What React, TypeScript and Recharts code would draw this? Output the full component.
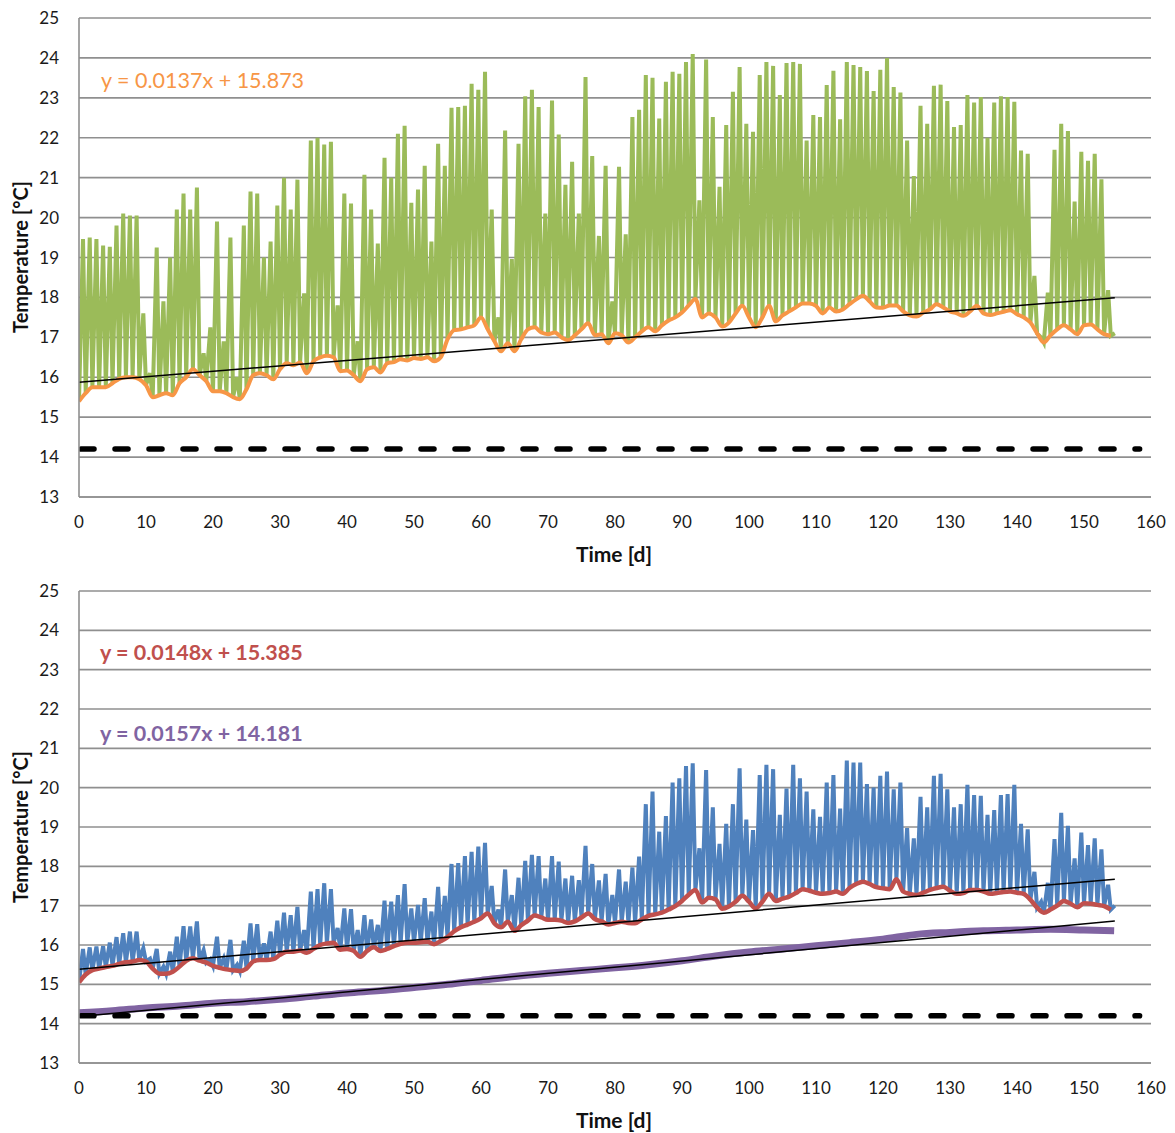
import React from 'react';
import { LineChart, Line, XAxis, YAxis, CartesianGrid } from 'recharts';

// ---- Top chart data (daily values, day index 0..154) ----
const greenPeak = [
  19.46, 19.5, 19.46, 19.3, 19.27, 19.8, 20.1, 20.05, 20.05, 17.6,
  16.1, 19.25, 17.9, 19.0, 20.2, 20.6, 20.2, 20.75, 16.6, 17.25,
  19.9, 16.9, 19.5, 16.0, 19.8, 20.65, 20.6, 19.0, 19.4, 20.3,
  21.0, 20.2, 20.95, 18.1, 21.93, 22.0, 21.83, 21.9, 17.8, 20.6,
  20.35, 16.9, 21.07, 20.2, 19.35, 21.5, 21.0, 22.1, 22.3, 20.37,
  20.7, 21.3, 19.4, 21.85, 21.3, 22.75, 22.77, 22.8, 23.35, 23.2,
  23.65, 20.2, 17.5, 22.18, 18.96, 21.85, 23.04, 23.2, 22.77, 20.1,
  22.93, 22.08, 20.82, 21.4, 20.1, 23.52, 21.54, 19.54, 21.3, 17.9,
  21.27, 19.58, 22.52, 22.7, 23.57, 23.5, 22.48, 23.4, 23.65, 23.6,
  23.9, 24.1, 20.43, 23.96, 22.52, 20.77, 22.32, 23.15, 23.77, 22.35,
  22.15, 23.57, 23.9, 23.8, 23.07, 23.87, 23.9, 23.85, 21.93, 22.57,
  22.52, 23.32, 23.68, 22.46, 23.9, 23.82, 23.77, 23.67, 23.17, 23.7,
  24.0, 23.27, 23.13, 21.93, 21.04, 22.8, 22.35, 23.3, 23.33, 22.92,
  22.27, 22.32, 23.07, 22.88, 23.02, 22.0, 22.88, 23.04, 23.02, 22.9,
  21.68, 21.6, 18.54, 17.0, 18.12, 21.7, 22.35, 22.17, 20.4, 21.65,
  21.42, 21.6, 20.96, 18.18, 17.1,
];

const orangeMin = [
  15.4, 15.6, 15.75, 15.75, 15.75, 15.85, 15.96, 16.0, 16.0, 15.95,
  15.8, 15.5, 15.55, 15.6, 15.55, 15.85, 16.0, 16.2, 16.05, 15.9,
  15.65, 15.65, 15.6, 15.5, 15.45, 15.7, 16.05, 16.1, 16.05, 15.95,
  16.2, 16.35, 16.3, 16.37, 16.1, 16.4, 16.5, 16.54, 16.5, 16.15,
  16.17, 16.05, 15.9, 16.2, 16.25, 16.12, 16.35, 16.38, 16.45, 16.42,
  16.48, 16.46, 16.5, 16.4, 16.5, 16.95, 17.18, 17.2, 17.25, 17.3,
  17.5, 17.2, 16.9, 16.65, 16.85, 16.65, 16.95, 17.2, 17.25, 17.12,
  17.08, 17.12, 17.0, 16.93, 17.05, 17.2, 17.35, 17.05, 17.08, 16.85,
  17.1, 17.05, 16.87, 17.0, 17.15, 17.25, 17.15, 17.3, 17.42, 17.5,
  17.62, 17.8, 17.96, 17.5, 17.6, 17.5, 17.27, 17.37, 17.6, 17.79,
  17.5, 17.25, 17.5, 17.79, 17.4, 17.55, 17.65, 17.75, 17.85, 17.85,
  17.79, 17.6, 17.75, 17.65, 17.7, 17.83, 17.95, 18.04, 17.9, 17.75,
  17.74, 17.8, 17.8, 17.65, 17.55, 17.52, 17.62, 17.7, 17.83, 17.75,
  17.65, 17.6, 17.54, 17.65, 17.79, 17.6, 17.56, 17.6, 17.64, 17.68,
  17.58, 17.5, 17.37, 17.1, 16.87, 17.05, 17.2, 17.3, 17.2, 17.08,
  17.3, 17.32, 17.2, 17.08, 17.04,
];

// ---- Bottom chart data ----
const bluePeak = [
  15.9, 15.94, 15.96, 15.97, 16.06, 16.2, 16.3, 16.34, 16.34, 15.92,
  15.65, 15.9, 15.45, 15.83, 16.21, 16.48, 16.47, 16.6, 15.87, 15.64,
  16.21, 15.66, 16.13, 15.5, 16.11, 16.55, 16.53, 16.04, 16.34, 16.62,
  16.82, 16.76, 16.97, 16.38, 17.36, 17.42, 17.57, 17.42, 16.43, 16.93,
  16.91, 16.38, 16.76, 16.65, 16.51, 17.13, 17.1, 17.27, 17.55, 16.93,
  17.02, 17.19, 16.85, 17.48, 17.25, 18.06, 18.08, 18.26, 18.37, 18.5,
  18.6, 17.5, 16.9, 17.92, 17.27, 17.71, 18.14, 18.29, 18.26, 17.69,
  18.26, 18.12, 17.69, 17.76, 17.65, 18.52, 18.06, 17.64, 17.81, 17.27,
  17.92, 17.61, 17.97, 18.25, 19.58, 19.9, 18.88, 19.28, 20.13, 20.24,
  20.55, 20.62, 18.46, 20.45, 19.5, 18.57, 19.08, 19.58, 20.49, 19.19,
  18.92, 20.32, 20.58, 20.47, 19.31, 19.98, 20.58, 20.24, 19.9, 19.45,
  19.26, 20.13, 20.32, 19.47, 20.69, 20.64, 20.64, 20.09, 20.0, 20.3,
  20.41, 19.96, 20.13, 18.97, 18.71, 19.77, 19.5, 20.3, 20.35, 19.96,
  19.5, 19.58, 20.07, 19.81, 19.79, 19.31, 19.43, 19.81, 19.84, 20.07,
  19.08, 18.94, 17.86, 17.1, 17.58, 18.69, 19.36, 19.03, 18.2, 18.86,
  18.54, 18.71, 18.43, 17.53, 17.0,
];

const redMin = [
  15.05, 15.25, 15.36, 15.4, 15.44, 15.47, 15.52, 15.56, 15.58, 15.62,
  15.58, 15.4, 15.27, 15.27, 15.32, 15.45, 15.6, 15.66, 15.6, 15.55,
  15.47, 15.42, 15.38, 15.36, 15.34, 15.4, 15.58, 15.62, 15.62, 15.64,
  15.75, 15.83, 15.83, 15.86, 15.8, 15.9, 16.0, 16.04, 16.06, 15.88,
  15.9, 15.85, 15.7, 15.85, 15.94, 15.85, 15.9, 15.97, 16.03, 16.06,
  16.06, 16.07, 16.08, 16.02, 16.1, 16.2, 16.35, 16.45, 16.52, 16.59,
  16.68, 16.8, 16.55, 16.45, 16.59, 16.36, 16.5, 16.62, 16.75, 16.7,
  16.64, 16.64, 16.62, 16.56, 16.6, 16.7, 16.8, 16.66, 16.6, 16.52,
  16.56, 16.59, 16.56, 16.55, 16.65, 16.74, 16.78, 16.82, 16.9, 16.99,
  17.12, 17.28, 17.4, 17.08, 17.2, 17.16, 16.92, 16.98, 17.1, 17.25,
  17.1, 16.93, 17.1, 17.3, 17.12, 17.18, 17.23, 17.32, 17.42, 17.38,
  17.33, 17.3, 17.32, 17.36, 17.3, 17.45, 17.55, 17.61, 17.55, 17.47,
  17.44, 17.42, 17.67, 17.36, 17.3, 17.27, 17.33, 17.4, 17.45, 17.48,
  17.38, 17.3, 17.32, 17.4, 17.4, 17.36, 17.3, 17.32, 17.35, 17.36,
  17.33, 17.3, 17.15, 16.95, 16.82, 16.9, 17.0, 17.12, 17.05, 16.96,
  17.06, 17.05, 17.02, 16.99, 16.9,
];

const purpleDays = [0, 5, 10, 15, 20, 25, 30, 35, 40, 45, 50, 55, 60, 65, 70, 75, 80, 85, 90, 95, 100, 105, 110, 115, 120, 125, 130, 135, 140, 145, 150, 154.5];
const purpleVals = [14.28, 14.33, 14.4, 14.45, 14.52, 14.56, 14.62, 14.7, 14.78, 14.84, 14.92, 15.0, 15.1, 15.2, 15.28, 15.35, 15.42, 15.5, 15.6, 15.72, 15.82, 15.9, 15.98, 16.06, 16.15, 16.27, 16.32, 16.36, 16.38, 16.4, 16.38, 16.36];

// Trendlines (equations printed on the chart)
const trendTop = { slope: 0.0137, intercept: 15.873, label: 'y = 0.0137x + 15.873' };
const trendRed = { slope: 0.0148, intercept: 15.385, label: 'y = 0.0148x + 15.385' };
const trendPurple = { slope: 0.0157, intercept: 14.181, label: 'y = 0.0157x + 14.181' };
const trendRange = [0, 154.6];

const limitValue = 14.2;
const limitRange = [0.3, 158.3];

const xTicks = [0, 10, 20, 30, 40, 50, 60, 70, 80, 90, 100, 110, 120, 130, 140, 150, 160];
const yTicks = [13, 14, 15, 16, 17, 18, 19, 20, 21, 22, 23, 24, 25];

const xTitle = 'Time [d]';
const yTitle = 'Temperature [°C]';

// ---- builders ----
const PEAK_OFFSET = 0.6;
const spiky = (peaks: number[], mins: number[]) =>
  peaks.flatMap((p, i) => [
    { x: i, y: mins[i] },
    { x: i + PEAK_OFFSET, y: p },
  ]);
const daily = (vals: number[]) => vals.map((v, i) => ({ x: i, y: v }));
const trend = (t: { slope: number; intercept: number }) =>
  trendRange.map((x) => ({ x, y: t.intercept + t.slope * x }));
const limitLine = limitRange.map((x) => ({ x, y: limitValue }));

const greenData = spiky(greenPeak, orangeMin);
const orangeData = daily(orangeMin);
const blueData = spiky(bluePeak, redMin);
const redData = daily(redMin);
const purpleData = purpleDays.map((d, i) => ({ x: d, y: purpleVals[i] }));

const FONT = 'Lato, "Open Sans", sans-serif';
const GRID = '#8f8f8f';
const TICK_STYLE = { fontFamily: FONT, fontSize: 17, fill: '#1a1a1a' };

const W = 1167;

function commonAxes() {
  return [
    <CartesianGrid key="g" horizontal vertical={false} stroke={GRID} strokeWidth={1.6} />,
    <XAxis
      key="x"
      type="number"
      dataKey="x"
      domain={[0, 160]}
      ticks={xTicks}
      interval={0}
      height={30}
      tickSize={0}
      tickMargin={19}
      tick={TICK_STYLE}
      axisLine={{ stroke: GRID, strokeWidth: 1.6 }}
      tickLine={false}
      allowDataOverflow
    />,
    <YAxis
      key="y"
      type="number"
      domain={[13, 25]}
      ticks={yTicks}
      interval={0}
      width={71}
      tickSize={0}
      tickMargin={20}
      tick={TICK_STYLE}
      axisLine={{ stroke: GRID, strokeWidth: 1.6 }}
      tickLine={false}
      allowDataOverflow
    />,
  ];
}

const lineProps = { dot: false, activeDot: false, isAnimationActive: false, dataKey: 'y' } as const;
const dashProps = { stroke: '#000', strokeWidth: 5.5, strokeDasharray: '13 21', strokeLinecap: 'round' as const };

const overlay: React.CSSProperties = { position: 'absolute', fontFamily: FONT, whiteSpace: 'nowrap', lineHeight: 1 };

export default function App() {
  return (
    <div style={{ position: 'relative', width: W, height: 1125 }}>
      <div style={{ position: 'absolute', left: 0, top: 0 }}>
        <LineChart width={W} height={560} margin={{ top: 10, right: 24, bottom: 41, left: 0 }}>
          {commonAxes()}
          <Line {...lineProps} data={greenData} type="linear" stroke="#9BBB59" strokeWidth={4} />
          <Line {...lineProps} data={orangeData} type="monotone" stroke="#F79646" strokeWidth={4} />
          <Line {...lineProps} data={trend(trendTop)} type="linear" stroke="#000" strokeWidth={1.5} />
          <Line {...lineProps} data={limitLine} type="linear" {...dashProps} />
        </LineChart>
      </div>
      <div style={{ position: 'absolute', left: 0, top: 570 }}>
        <LineChart width={W} height={555} margin={{ top: 13, right: 24, bottom: 40, left: 0 }}>
          {commonAxes()}
          <Line {...lineProps} data={blueData} type="linear" stroke="#4F81BD" strokeWidth={4} />
          <Line {...lineProps} data={redData} type="monotone" stroke="#C0504D" strokeWidth={4.5} />
          <Line {...lineProps} data={purpleData} type="monotone" stroke="#8064A2" strokeWidth={7} />
          <Line {...lineProps} data={trend(trendRed)} type="linear" stroke="#000" strokeWidth={1.5} />
          <Line {...lineProps} data={trend(trendPurple)} type="linear" stroke="#000" strokeWidth={1.5} />
          <Line {...lineProps} data={limitLine} type="linear" {...dashProps} />
        </LineChart>
      </div>

      {/* equations */}
      <div style={{ ...overlay, left: 93, top: 62, fontSize: 21.5, color: '#F79646' }}>{trendTop.label}</div>
      <div style={{ ...overlay, left: 92, top: 634, fontSize: 21.5, fontWeight: 700, color: '#C0504D' }}>{trendRed.label}</div>
      <div style={{ ...overlay, left: 92, top: 715, fontSize: 21.5, fontWeight: 700, color: '#8064A2' }}>{trendPurple.label}</div>

      {/* axis titles */}
      <div style={{ ...overlay, left: 606, top: 535, fontSize: 21, fontWeight: 700, color: '#111', transform: 'translateX(-50%)' }}>{xTitle}</div>
      <div style={{ ...overlay, left: 606, top: 1101, fontSize: 21, fontWeight: 700, color: '#111', transform: 'translateX(-50%)' }}>{xTitle}</div>
      <div style={{ ...overlay, left: 12, top: 249, fontSize: 20, fontWeight: 700, color: '#111', transform: 'translate(-50%, -50%) rotate(-90deg)' }}>{yTitle}</div>
      <div style={{ ...overlay, left: 12, top: 819, fontSize: 20, fontWeight: 700, color: '#111', transform: 'translate(-50%, -50%) rotate(-90deg)' }}>{yTitle}</div>
    </div>
  );
}
